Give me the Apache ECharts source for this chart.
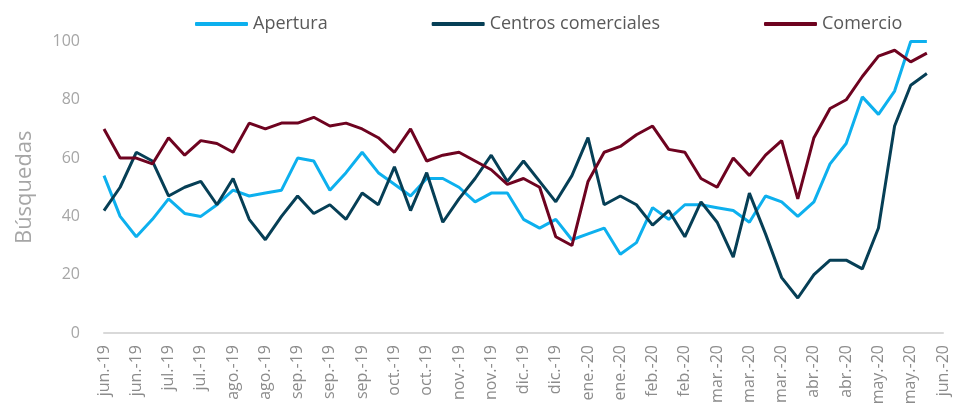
<!DOCTYPE html>
<html>
<head>
<meta charset="utf-8">
<script src="https://cdn.jsdelivr.net/npm/echarts@6/dist/echarts.min.js"></script>
<style>
  html, body { margin: 0; padding: 0; background: #fff; }
  #chart { width: 958px; height: 417px; }
</style>
</head>
<body>
<div id="chart"></div>
<script>
// weekly categories, every other one is labelled
const weeks = [
  "jun.-19", "jun.-19", "jun.-19", "jun.-19", "jul.-19", "jul.-19", "jul.-19", "jul.-19",
  "ago.-19", "ago.-19", "ago.-19", "ago.-19", "sep.-19", "sep.-19", "sep.-19", "sep.-19",
  "sep.-19", "oct.-19", "oct.-19", "oct.-19", "oct.-19", "nov.-19", "nov.-19", "nov.-19",
  "nov.-19", "dic.-19", "dic.-19", "dic.-19", "dic.-19", "dic.-19", "ene.-20", "ene.-20",
  "ene.-20", "ene.-20", "feb.-20", "feb.-20", "feb.-20", "feb.-20", "mar.-20", "mar.-20",
  "mar.-20", "mar.-20", "mar.-20", "abr.-20", "abr.-20", "abr.-20", "abr.-20", "may.-20",
  "may.-20", "may.-20", "may.-20", "may.-20", "jun.-20"
];

const apertura = [
  54, 40, 33, 39, 46, 41, 40, 44, 49, 47, 48, 49, 60, 59, 49, 55,
  62, 55, 51, 47, 53, 53, 50, 45, 48, 48, 39, 36, 39, 32, 34, 36,
  27, 31, 43, 39, 44, 44, 43, 42, 38, 47, 45, 40, 45, 58, 65, 81,
  75, 83, 100, 100, null
];

const centros = [
  42, 50, 62, 59, 47, 50, 52, 44, 53, 39, 32, 40, 47, 41, 44, 39,
  48, 44, 57, 42, 55, 38, 46, 53, 61, 52, 59, 52, 45, 54, 67, 44,
  47, 44, 37, 42, 33, 45, 38, 26, 48, 34, 19, 12, 20, 25, 25, 22,
  36, 71, 85, 89, null
];

const comercio = [
  70, 60, 60, 58, 67, 61, 66, 65, 62, 72, 70, 72, 72, 74, 71, 72,
  70, 67, 62, 70, 59, 61, 62, 59, 56, 51, 53, 50, 33, 30, 52, 62,
  64, 68, 71, 63, 62, 53, 50, 60, 54, 61, 66, 46, 67, 77, 80, 88,
  95, 97, 93, 96, null
];

const yTicks = [0, 20, 40, 60, 80, 100];

const chart = echarts.init(document.getElementById("chart"));

function line(name, data, color) {
  return {
    name: name,
    type: "line",
    data: data,
    symbol: "none",
    lineStyle: { color: color, width: 3 },
    itemStyle: { color: color }
  };
}

chart.setOption({
  animation: false,
  textStyle: { fontFamily: "Open Sans" },
  legend: {
    top: 10,
    left: 190,
    icon: "roundRect",
    itemWidth: 53,
    itemHeight: 4,
    itemGap: 104,
    textStyle: { color: "#595959", fontSize: 18 }
  },
  grid: { left: 104, right: 15, top: 41.5, bottom: 84 },
  xAxis: {
    type: "category",
    boundaryGap: false,
    data: weeks,
    axisLine: { lineStyle: { color: "#d9d9d9", width: 2 } },
    axisTick: { show: false },
    axisLabel: {
      interval: 1,
      rotate: 90,
      margin: 12,
      color: "#8c8c8c",
      fontSize: 16
    }
  },
  yAxis: {
    type: "value",
    min: yTicks[0],
    max: yTicks[yTicks.length - 1],
    interval: 20,
    name: "Búsquedas",
    nameLocation: "middle",
    nameRotate: 90,
    nameGap: 68,
    nameTextStyle: { color: "#a6a6a6", fontSize: 22 },
    axisLine: { show: false },
    axisTick: { show: false },
    splitLine: { show: false },
    axisLabel: { margin: 24, color: "#a6a6a6", fontSize: 16 }
  },
  series: [
    line("Apertura", apertura, "#0db0ee"),
    line("Centros comerciales", centros, "#063f56"),
    line("Comercio", comercio, "#6e0320")
  ]
});
</script>
</body>
</html>
